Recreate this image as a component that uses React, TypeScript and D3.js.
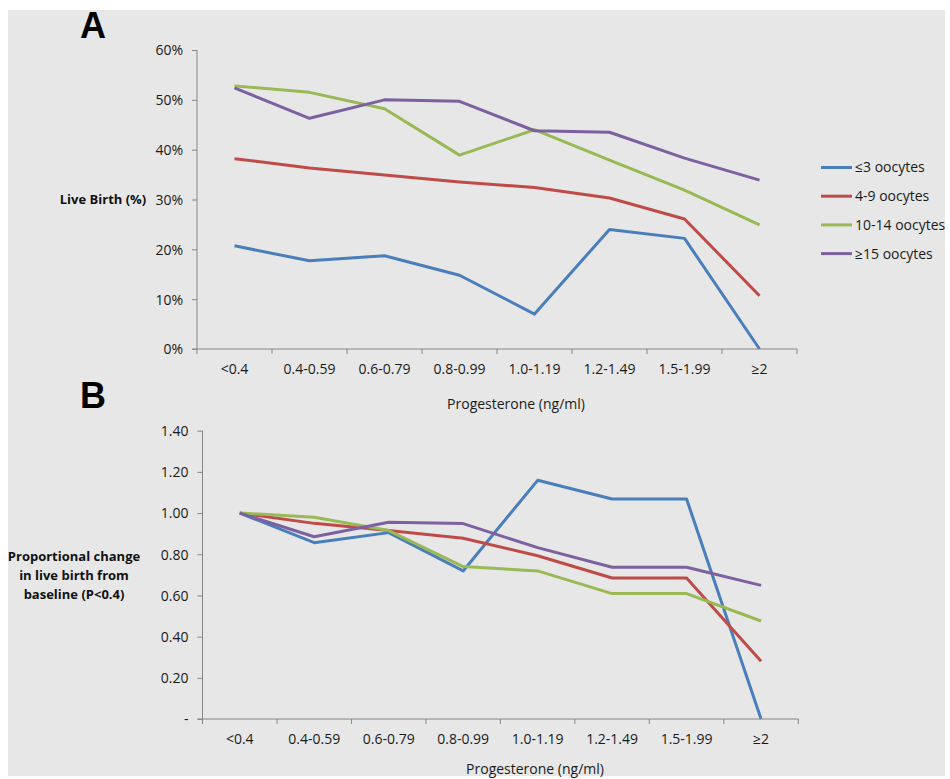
import React, { useEffect, useRef } from 'react';
import * as d3 from 'd3';

// progesterone categories on the x axis
const categories = ['<0.4', '0.4-0.59', '0.6-0.79', '0.8-0.99', '1.0-1.19', '1.2-1.49', '1.5-1.99', '≥2'];
const seriesNames = ['≤3 oocytes', '4-9 oocytes', '10-14 oocytes', '≥15 oocytes'];
const colors = ['#4a7ebb', '#be4b48', '#98b954', '#7d60a0'];

// panel A: live birth (%)
const liveBirth1to3 = [20.7, 17.7, 18.7, 14.8, 7.0, 24.0, 22.2, 0];
const liveBirth4to9 = [38.2, 36.3, 34.9, 33.5, 32.4, 30.3, 26.1, 10.7];
const liveBirth10to14 = [52.8, 51.5, 48.2, 38.9, 44.0, 37.9, 31.9, 24.9];
const liveBirth15plus = [52.4, 46.3, 50.0, 49.7, 43.8, 43.5, 38.3, 33.9];

// panel B: proportional change from baseline
const change1to3 = [1.0, 0.856, 0.905, 0.719, 1.159, 1.068, 1.068, 0];
const change4to9 = [1.0, 0.95, 0.915, 0.878, 0.793, 0.685, 0.685, 0.28];
const change10to14 = [1.0, 0.98, 0.915, 0.74, 0.719, 0.609, 0.609, 0.476];
const change15plus = [1.0, 0.885, 0.955, 0.949, 0.832, 0.737, 0.737, 0.649];

const ticksA = [0, 10, 20, 30, 40, 50, 60];
const ticksB = [0, 0.2, 0.4, 0.6, 0.8, 1.0, 1.2, 1.4];

const font = "'Open Sans', 'Liberation Sans', sans-serif";
const axisColor = '#868686';
const textColor = '#1a1a1a';

function App() {
  const ref = useRef(null);

  useEffect(() => {
    const svg = d3.select(ref.current);
    svg.selectAll('*').remove();

    svg.append('rect')
      .attr('x', 8).attr('y', 10)
      .attr('width', 937).attr('height', 766)
      .attr('fill', '#e7e7e7');

    function panel(opts) {
      const x = d3.scaleBand().domain(categories).range(opts.xRange);
      const y = d3.scaleLinear().domain(opts.yDomain).range(opts.yRange);
      const g = svg.append('g');

      // lines
      const line = d3.line()
        .x((d, i) => x(categories[i]) + x.bandwidth() / 2)
        .y(d => y(d));
      opts.data.forEach((vals, i) => {
        g.append('path')
          .attr('d', line(vals))
          .attr('fill', 'none')
          .attr('stroke', colors[i])
          .attr('stroke-width', 3)
          .attr('stroke-linejoin', 'round');
      });

      // y axis
      const yAxis = g.append('g')
        .attr('transform', `translate(${opts.xRange[0]},0)`)
        .call(d3.axisLeft(y).tickValues(opts.ticks).tickSize(5).tickPadding(9).tickFormat(opts.fmt));
      yAxis.selectAll('line, path').attr('stroke', axisColor);
      yAxis.select('.domain').attr('d', `M0,${opts.yRange[0]}V${opts.yRange[1]}`);

      // x axis
      const xAxis = g.append('g')
        .attr('transform', `translate(0,${opts.yRange[0]})`)
        .call(d3.axisBottom(x).tickSize(0).tickPadding(opts.labelPad));
      xAxis.select('.domain').attr('stroke', axisColor)
        .attr('d', `M${opts.xRange[0] - 5},0H${opts.xRange[1]}`);
      xAxis.selectAll('.tick line').remove();
      // tick marks between categories
      const bounds = categories.map(c => x(c)).concat([opts.xRange[1]]);
      xAxis.selectAll('.bound')
        .data(bounds)
        .join('line')
        .attr('class', 'bound')
        .attr('x1', d => d).attr('x2', d => d)
        .attr('y1', 0).attr('y2', 5)
        .attr('stroke', axisColor);

      g.selectAll('.tick text')
        .attr('font-family', font)
        .attr('font-size', 14)
        .attr('fill', textColor);
      xAxis.selectAll('.tick text').attr('dy', 0);
      yAxis.selectAll('.tick text').attr('dy', '0.35em');

      g.append('text')
        .attr('x', opts.titleX).attr('y', opts.titleY)
        .attr('text-anchor', 'middle')
        .attr('font-family', font).attr('font-size', 14).attr('fill', textColor)
        .text('Progesterone (ng/ml)');

      g.append('text')
        .attr('x', 80).attr('y', opts.letterY)
        .attr('font-family', "'Liberation Sans', Arial, sans-serif")
        .attr('font-weight', 'bold').attr('font-size', 36).attr('fill', '#000')
        .text(opts.letter);

      const yl = g.append('text')
        .attr('text-anchor', 'middle')
        .attr('font-family', font).attr('font-weight', 'bold')
        .attr('font-size', 13).attr('fill', '#111');
      opts.yLabel.forEach((t, i) => {
        yl.append('tspan')
          .attr('x', opts.yLabelX)
          .attr('y', opts.yLabelY + i * 19)
          .text(t);
      });
    }

    panel({
      letter: 'A',
      letterY: 38,
      xRange: [197, 797],
      yRange: [349, 50],
      yDomain: [0, 60],
      ticks: ticksA,
      fmt: d => `${d}%`,
      labelPad: 25,
      titleX: 516,
      titleY: 409,
      yLabel: ['Live Birth (%)'],
      yLabelX: 103,
      yLabelY: 204,
      data: [liveBirth1to3, liveBirth4to9, liveBirth10to14, liveBirth15plus]
    });

    panel({
      letter: 'B',
      letterY: 408,
      xRange: [202.5, 798.3],
      yRange: [719, 430.7],
      yDomain: [0, 1.4],
      ticks: ticksB,
      fmt: d => (d === 0 ? '-' : d3.format('.2f')(d)),
      labelPad: 25,
      titleX: 535,
      titleY: 774,
      yLabel: ['Proportional change', 'in live birth from', 'baseline (P<0.4)'],
      yLabelX: 74,
      yLabelY: 561,
      data: [change1to3, change4to9, change10to14, change15plus]
    });

    // legend
    const legend = svg.append('g')
      .selectAll('g')
      .data(seriesNames)
      .join('g')
      .attr('transform', (d, i) => `translate(821,${167.5 + i * 28.7})`);
    legend.append('line')
      .attr('x1', 0).attr('x2', 31)
      .attr('stroke', (d, i) => colors[i])
      .attr('stroke-width', 3);
    legend.append('text')
      .attr('x', 34).attr('dy', '0.35em')
      .attr('font-family', font).attr('font-size', 14).attr('fill', textColor)
      .text(d => d);
  }, []);

  return (
    <svg ref={ref} width={950} height={779}
      style={{ position: 'absolute', left: 0, top: 0, background: '#fff' }} />
  );
}

export default App;
